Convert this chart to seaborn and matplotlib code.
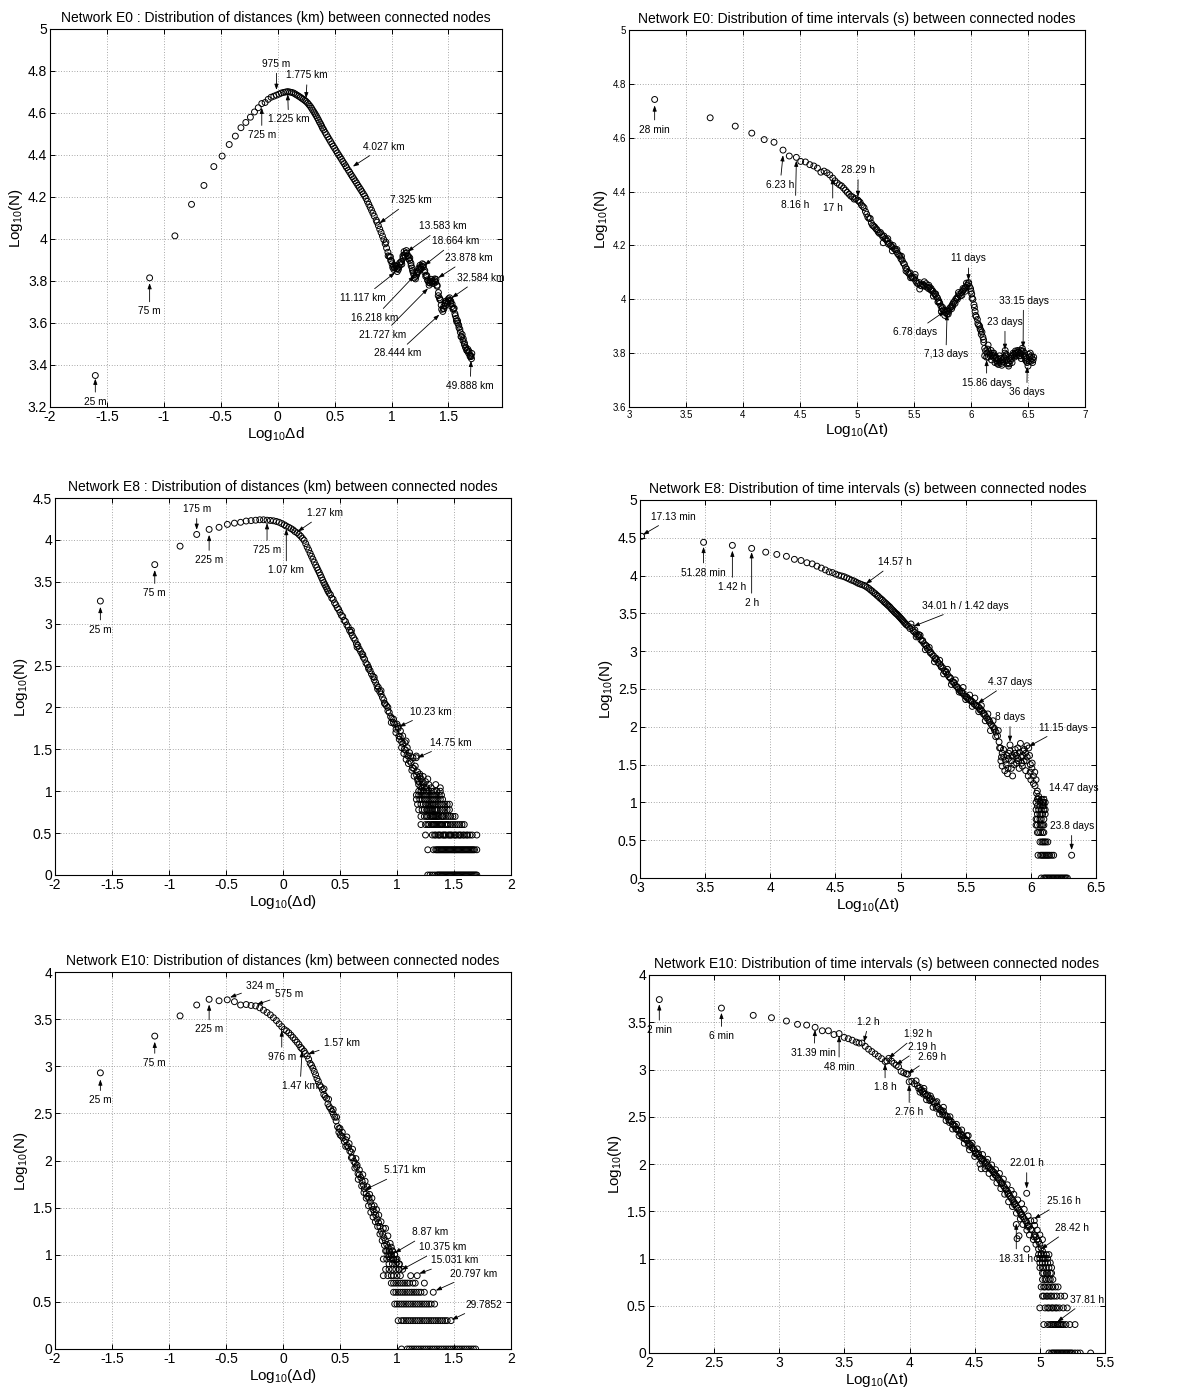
import pandas as pd
import matplotlib
matplotlib.use("Agg")
import matplotlib.pyplot as plt
from matplotlib.ticker import MultipleLocator, FuncFormatter
import seaborn as sns

# ---------------------------------------------------------------------------
# Network E0 - distances: (log10 distance [km], log10 count)
e0_dist_points = [
    (-1.602, 3.35), (-1.125, 3.815), (-0.903, 4.015), (-0.757, 4.165), (-0.648, 4.255),
    (-0.561, 4.345), (-0.488, 4.395), (-0.426, 4.45), (-0.372, 4.49), (-0.323, 4.53),
    (-0.280, 4.555), (-0.240, 4.58), (-0.204, 4.605), (-0.171, 4.625), (-0.140, 4.645),
    (-0.111, 4.65), (-0.084, 4.665), (-0.058, 4.675), (-0.034, 4.68), (-0.011, 4.685),
    (0.011, 4.69), (0.031, 4.695), (0.051, 4.698), (0.070, 4.70), (0.088, 4.702),
    (0.106, 4.70), (0.123, 4.698), (0.140, 4.695), (0.155, 4.69), (0.170, 4.685),
    (0.185, 4.68), (0.199, 4.675), (0.212, 4.67), (0.225, 4.665), (0.238, 4.66),
    (0.249, 4.655), (0.262, 4.648), (0.274, 4.64), (0.286, 4.632), (0.297, 4.623),
    (0.307, 4.614), (0.318, 4.605), (0.328, 4.596), (0.338, 4.587), (0.348, 4.577),
    (0.358, 4.567), (0.367, 4.557), (0.377, 4.548), (0.386, 4.538), (0.394, 4.528),
    (0.404, 4.52), (0.416, 4.508), (0.428, 4.497), (0.440, 4.486), (0.452, 4.475),
    (0.464, 4.464), (0.476, 4.453), (0.488, 4.442), (0.500, 4.432), (0.512, 4.421),
    (0.524, 4.410), (0.536, 4.400), (0.548, 4.390), (0.560, 4.380), (0.572, 4.369),
    (0.584, 4.359), (0.596, 4.349), (0.605, 4.340), (0.620, 4.328), (0.632, 4.318),
    (0.644, 4.307), (0.656, 4.297), (0.668, 4.287), (0.680, 4.277), (0.692, 4.267),
    (0.704, 4.256), (0.716, 4.246), (0.728, 4.236), (0.740, 4.226), (0.752, 4.215),
    (0.764, 4.205), (0.776, 4.193), (0.788, 4.179), (0.800, 4.165), (0.812, 4.151),
    (0.824, 4.137), (0.836, 4.123), (0.848, 4.109), (0.865, 4.090), (0.872, 4.080),
    (0.884, 4.064), (0.896, 4.047), (0.908, 4.031), (0.920, 4.014), (0.932, 3.997),
    (0.944, 3.977), (0.956, 3.957), (0.968, 3.937), (0.980, 3.917), (0.992, 3.898),
    (1.004, 3.882), (1.016, 3.870), (1.028, 3.862), (1.046, 3.858), (1.052, 3.860),
    (1.064, 3.866), (1.076, 3.877), (1.088, 3.893), (1.100, 3.910), (1.112, 3.924),
    (1.124, 3.932), (1.133, 3.934), (1.148, 3.918), (1.160, 3.898), (1.172, 3.873),
    (1.184, 3.850), (1.196, 3.830), (1.210, 3.822), (1.220, 3.828), (1.232, 3.842),
    (1.244, 3.856), (1.256, 3.866), (1.271, 3.870), (1.280, 3.866), (1.292, 3.850),
    (1.304, 3.828), (1.316, 3.806), (1.328, 3.793), (1.337, 3.790), (1.352, 3.795),
    (1.364, 3.800), (1.378, 3.802), (1.388, 3.795), (1.400, 3.775), (1.412, 3.745),
    (1.424, 3.712), (1.436, 3.685), (1.454, 3.668), (1.460, 3.668), (1.472, 3.682),
    (1.484, 3.698), (1.496, 3.706), (1.513, 3.708), (1.520, 3.704), (1.532, 3.690),
    (1.544, 3.668), (1.556, 3.645), (1.568, 3.622), (1.580, 3.600), (1.592, 3.578),
    (1.604, 3.556), (1.616, 3.535), (1.628, 3.515), (1.640, 3.497), (1.652, 3.482),
    (1.664, 3.468), (1.676, 3.457), (1.688, 3.448), (1.698, 3.440),
]
e0_dist_spread = [
    (0.95, 3.985), (0.97, 3.92), (0.99, 3.915), (1.01, 3.865), (1.03, 3.875), (1.05, 3.845),
    (1.07, 3.885), (1.09, 3.88), (1.11, 3.94), (1.13, 3.945), (1.15, 3.905), (1.17, 3.885),
    (1.19, 3.84), (1.21, 3.81), (1.23, 3.845), (1.25, 3.875), (1.27, 3.882), (1.29, 3.842),
    (1.31, 3.825), (1.33, 3.78), (1.35, 3.808), (1.37, 3.788), (1.39, 3.808), (1.41, 3.73),
    (1.43, 3.71), (1.45, 3.655), (1.47, 3.695), (1.49, 3.69), (1.51, 3.72), (1.53, 3.678),
    (1.55, 3.67), (1.57, 3.61), (1.59, 3.59), (1.61, 3.535), (1.63, 3.525), (1.65, 3.485),
    (1.67, 3.475), (1.69, 3.44), (1.705, 3.455), (1.702, 3.43),
    (1.00, 3.895), (1.02, 3.855), (1.04, 3.87), (1.06, 3.855), (1.08, 3.89), (1.10, 3.92),
    (1.12, 3.915), (1.14, 3.92), (1.16, 3.91), (1.18, 3.862), (1.20, 3.815), (1.22, 3.838),
    (1.24, 3.862), (1.26, 3.858), (1.28, 3.878), (1.30, 3.822), (1.32, 3.80), (1.34, 3.80),
    (1.36, 3.79), (1.38, 3.81), (1.40, 3.78), (1.42, 3.72), (1.44, 3.665), (1.46, 3.68),
    (1.48, 3.705), (1.50, 3.715), (1.52, 3.695), (1.54, 3.665), (1.56, 3.635), (1.58, 3.61),
    (1.60, 3.57), (1.62, 3.545), (1.64, 3.505), (1.66, 3.47), (1.68, 3.465), (1.695, 3.445),
]
e0_dist_notes = [
    ("25 m", (-1.602, 3.335), (-1.602, 3.225)),
    ("75 m", (-1.125, 3.79), (-1.125, 3.655)),
    ("975 m", (-0.011, 4.71), (-0.011, 4.835)),
    ("1.775 km", (0.249, 4.67), (0.26, 4.78)),
    ("1.225 km", (0.088, 4.69), (0.095, 4.57)),
    ("725 m", (-0.140, 4.625), (-0.140, 4.495)),
    ("4.027 km", (0.66, 4.345), (0.93, 4.44)),
    ("7.325 km", (0.895, 4.075), (1.17, 4.185)),
    ("13.583 km", (1.14, 3.94), (1.45, 4.06)),
    ("18.664 km", (1.29, 3.875), (1.56, 3.99)),
    ("23.878 km", (1.41, 3.815), (1.68, 3.91)),
    ("32.584 km", (1.53, 3.72), (1.78, 3.815)),
    ("11.117 km", (1.03, 3.84), (0.75, 3.72)),
    ("16.218 km", (1.20, 3.825), (0.85, 3.625)),
    ("21.727 km", (1.32, 3.765), (0.92, 3.545)),
    ("28.444 km", (1.42, 3.64), (1.05, 3.455)),
    ("49.888 km", (1.698, 3.42), (1.69, 3.30)),
]

# Network E0 - time intervals: (log10 interval [s], log10 count)
e0_time_points = [
    (3.225, 4.742), (3.712, 4.674), (3.932, 4.643), (4.077, 4.617), (4.186, 4.593),
    (4.272, 4.583), (4.351, 4.554), (4.406, 4.532), (4.468, 4.527), (4.506, 4.512),
    (4.548, 4.510), (4.586, 4.500), (4.621, 4.495), (4.653, 4.487), (4.683, 4.472),
    (4.711, 4.476), (4.737, 4.470), (4.761, 4.462), (4.787, 4.450), (4.806, 4.440),
    (4.826, 4.432), (4.846, 4.425), (4.864, 4.421), (4.882, 4.413), (4.899, 4.405),
    (4.915, 4.397), (4.931, 4.390), (4.946, 4.383), (4.961, 4.380), (4.975, 4.372),
    (4.988, 4.374), (5.008, 4.368), (5.014, 4.365), (5.027, 4.360), (5.039, 4.350),
    (5.051, 4.345), (5.062, 4.340), (5.074, 4.326), (5.085, 4.316), (5.095, 4.305),
    (5.106, 4.300), (5.116, 4.300), (5.126, 4.283), (5.136, 4.275), (5.146, 4.272),
    (5.156, 4.268), (5.166, 4.262), (5.176, 4.258), (5.186, 4.250), (5.196, 4.245),
    (5.206, 4.248), (5.216, 4.240), (5.226, 4.232), (5.236, 4.235), (5.246, 4.225),
    (5.256, 4.222), (5.266, 4.215), (5.276, 4.205), (5.286, 4.208), (5.296, 4.200),
    (5.306, 4.195), (5.316, 4.200), (5.326, 4.188), (5.336, 4.185), (5.346, 4.178),
    (5.356, 4.170), (5.366, 4.165), (5.376, 4.160), (5.386, 4.150), (5.396, 4.145),
    (5.406, 4.135), (5.416, 4.130), (5.426, 4.118), (5.436, 4.112), (5.446, 4.100),
    (5.456, 4.095), (5.466, 4.098), (5.476, 4.085), (5.486, 4.080), (5.496, 4.078),
    (5.506, 4.082), (5.516, 4.068), (5.526, 4.060), (5.536, 4.058), (5.546, 4.062),
    (5.556, 4.052), (5.566, 4.050), (5.576, 4.056), (5.586, 4.052), (5.596, 4.048),
    (5.606, 4.058), (5.616, 4.045), (5.626, 4.040), (5.636, 4.045), (5.646, 4.035),
    (5.656, 4.032), (5.666, 4.030), (5.676, 4.022), (5.686, 4.018), (5.696, 4.010),
    (5.706, 4.005), (5.716, 3.995), (5.726, 3.985), (5.736, 3.975), (5.746, 3.965),
    (5.756, 3.960), (5.768, 3.955), (5.776, 3.950), (5.790, 3.955), (5.796, 3.960),
    (5.806, 3.955), (5.816, 3.968), (5.826, 3.972), (5.836, 3.980), (5.846, 3.988),
    (5.856, 3.992), (5.866, 4.000), (5.876, 4.005), (5.886, 4.010), (5.896, 4.018),
    (5.906, 4.012), (5.916, 4.025), (5.926, 4.030), (5.936, 4.035), (5.946, 4.042),
    (5.956, 4.045), (5.966, 4.052), (5.978, 4.058), (5.986, 4.048), (5.996, 4.040),
    (6.006, 4.020), (6.016, 4.000), (6.026, 3.980), (6.036, 3.955), (6.046, 3.935),
    (6.056, 3.925), (6.066, 3.905), (6.076, 3.900), (6.086, 3.885), (6.096, 3.878),
    (6.104, 3.860), (6.112, 3.840), (6.120, 3.818), (6.128, 3.808), (6.137, 3.785),
    (6.146, 3.815), (6.156, 3.805), (6.166, 3.798), (6.176, 3.810), (6.186, 3.792),
    (6.196, 3.785), (6.206, 3.790), (6.216, 3.780), (6.226, 3.772), (6.236, 3.778),
    (6.246, 3.765), (6.256, 3.770), (6.266, 3.762), (6.276, 3.775), (6.286, 3.782),
    (6.298, 3.800), (6.306, 3.790), (6.316, 3.775), (6.326, 3.765), (6.336, 3.760),
    (6.346, 3.772), (6.356, 3.780), (6.366, 3.790), (6.376, 3.795), (6.386, 3.800),
    (6.396, 3.798), (6.406, 3.802), (6.416, 3.805), (6.426, 3.800), (6.436, 3.798),
    (6.446, 3.805), (6.457, 3.808), (6.466, 3.790), (6.476, 3.775), (6.486, 3.770),
    (6.493, 3.765), (6.506, 3.795), (6.516, 3.785), (6.526, 3.770), (6.536, 3.780),
    (6.545, 3.775),
]
e0_time_spread = [
    (5.23, 4.21), (5.27, 4.225), (5.31, 4.18), (5.35, 4.185), (5.39, 4.16), (5.43, 4.105),
    (5.47, 4.08), (5.51, 4.092), (5.55, 4.038), (5.59, 4.065), (5.63, 4.052), (5.67, 4.012),
    (5.71, 3.99), (5.74, 3.955), (5.77, 3.94), (5.80, 3.945), (5.83, 3.965), (5.86, 3.985),
    (5.89, 4.025), (5.92, 4.015), (5.95, 4.03), (5.98, 4.062), (6.00, 4.03), (6.03, 3.97),
    (6.06, 3.91), (6.09, 3.87), (6.12, 3.79), (6.15, 3.785), (6.18, 3.775), (6.21, 3.765),
    (6.24, 3.758), (6.27, 3.755), (6.30, 3.81), (6.33, 3.752), (6.36, 3.765), (6.39, 3.808),
    (6.42, 3.79), (6.45, 3.818), (6.48, 3.785), (6.50, 3.752), (6.52, 3.80), (6.54, 3.765),
    (6.15, 3.83), (6.20, 3.80), (6.25, 3.79), (6.35, 3.788), (6.44, 3.78),
    (6.14, 3.80), (6.17, 3.79), (6.19, 3.80), (6.22, 3.785), (6.23, 3.762), (6.26, 3.78),
    (6.28, 3.768), (6.29, 3.785), (6.31, 3.795), (6.32, 3.76), (6.34, 3.78), (6.37, 3.80),
    (6.38, 3.785), (6.40, 3.79), (6.41, 3.81), (6.43, 3.79), (6.44, 3.81), (6.47, 3.80),
    (6.49, 3.78), (6.51, 3.77), (6.53, 3.79), (6.55, 3.785), (5.65, 4.04), (5.69, 4.02),
    (5.72, 3.99), (5.75, 3.97), (5.79, 3.945), (5.84, 3.975), (5.88, 4.00), (5.93, 4.04),
    (5.96, 4.06), (6.01, 4.005), (6.04, 3.94), (6.08, 3.89), (6.11, 3.85),
]
e0_time_notes = [
    ("28 min", (3.225, 4.72), (3.225, 4.63)),
    ("6.23 h", (4.351, 4.535), (4.325, 4.425)),
    ("8.16 h", (4.468, 4.515), (4.46, 4.35)),
    ("17 h", (4.787, 4.45), (4.787, 4.34)),
    ("28.29 h", (5.008, 4.38), (5.01, 4.48)),
    ("11 days", (5.978, 4.07), (5.978, 4.152)),
    ("6.78 days", (5.768, 3.955), (5.505, 3.878)),
    ("7,13 days", (5.790, 3.945), (5.78, 3.795)),
    ("23 days", (6.298, 3.812), (6.298, 3.917)),
    ("33.15 days", (6.457, 3.82), (6.46, 3.995)),
    ("15.86 days", (6.137, 3.775), (6.137, 3.69)),
    ("36 days", (6.493, 3.75), (6.49, 3.655)),
]

# Network E8 - distances
e8_dist_points = [
    (-1.602, 3.27), (-1.125, 3.705), (-0.903, 3.925), (-0.757, 4.065), (-0.648, 4.125),
    (-0.561, 4.15), (-0.488, 4.185), (-0.426, 4.20), (-0.372, 4.21), (-0.323, 4.225),
    (-0.280, 4.23), (-0.240, 4.235), (-0.204, 4.24), (-0.171, 4.24), (-0.140, 4.235),
    (-0.111, 4.232), (-0.084, 4.228), (-0.058, 4.22), (-0.034, 4.21), (-0.011, 4.195),
    (0.011, 4.18), (0.029, 4.165), (0.051, 4.15), (0.070, 4.135), (0.088, 4.12),
    (0.104, 4.10), (0.123, 4.085), (0.140, 4.065), (0.155, 4.045), (0.170, 4.02),
    (0.185, 3.995), (0.199, 3.955), (0.212, 3.915), (0.225, 3.88), (0.238, 3.84),
    (0.250, 3.805), (0.262, 3.77), (0.274, 3.735), (0.286, 3.70), (0.297, 3.67),
    (0.307, 3.64), (0.318, 3.61), (0.328, 3.58), (0.338, 3.55), (0.348, 3.52),
    (0.358, 3.49), (0.367, 3.465), (0.377, 3.44), (0.386, 3.415), (0.394, 3.39),
    (0.404, 3.365), (0.416, 3.345), (0.428, 3.305), (0.440, 3.29), (0.452, 3.25),
    (0.464, 3.225), (0.476, 3.19), (0.488, 3.17), (0.500, 3.135), (0.512, 3.10),
    (0.524, 3.085), (0.536, 3.04), (0.548, 3.025), (0.560, 2.985), (0.572, 2.96),
    (0.584, 2.92), (0.596, 2.895), (0.608, 2.86), (0.620, 2.83), (0.632, 2.805),
    (0.644, 2.76), (0.656, 2.74), (0.668, 2.70), (0.680, 2.67), (0.692, 2.64),
    (0.704, 2.60), (0.716, 2.575), (0.728, 2.53), (0.740, 2.51), (0.752, 2.46),
    (0.764, 2.44), (0.776, 2.40), (0.788, 2.37), (0.800, 2.33), (0.812, 2.30),
    (0.824, 2.26), (0.836, 2.24), (0.848, 2.19), (0.860, 2.16), (0.872, 2.12),
    (0.884, 2.09), (0.896, 2.04), (0.908, 2.02), (0.920, 1.96), (0.932, 1.94),
    (0.944, 1.89), (0.956, 1.87), (0.968, 1.82), (0.980, 1.80), (0.992, 1.74),
    (1.010, 1.75), (1.016, 1.66), (1.028, 1.65), (1.040, 1.59), (1.052, 1.57),
    (1.064, 1.50), (1.076, 1.49), (1.088, 1.43), (1.100, 1.42), (1.112, 1.36),
    (1.124, 1.34), (1.136, 1.28), (1.148, 1.27), (1.169, 1.40), (1.172, 1.19),
    (1.184, 1.12), (1.196, 1.11), (1.208, 1.05), (1.220, 1.04),
]
e8_dist_spread = [
    (0.60, 2.92), (0.65, 2.72), (0.70, 2.63), (0.75, 2.48), (0.80, 2.36), (0.83, 2.22),
    (0.86, 2.20), (0.89, 2.05), (0.92, 2.00), (0.95, 1.82), (0.97, 1.86), (0.99, 1.70),
    (1.00, 1.80), (1.02, 1.62), (1.03, 1.72), (1.04, 1.52), (1.05, 1.66), (1.06, 1.45),
    (1.07, 1.58), (1.08, 1.38), (1.09, 1.52), (1.10, 1.33), (1.11, 1.46), (1.12, 1.42),
    (1.13, 1.25), (1.14, 1.40), (1.15, 1.18), (1.16, 1.30), (1.17, 1.42), (1.18, 1.23),
    (1.19, 1.08), (1.20, 1.18), (1.21, 1.15), (1.22, 1.114), (1.23, 1.079), (1.24, 1.041),
    (1.18, 1.146), (1.25, 1.114), (1.26, 1.041), (1.28, 1.079), (1.30, 1.041), (1.27, 1.146),
    (1.20, 1.204), (1.23, 1.176), (1.08, 1.60), (1.01, 1.77), (1.38, 1.041), (1.34, 1.079),
]
e8_dist_rows = [
    (0.0, [1.27, 1.29, 1.31, 1.33, 1.35, 1.36, 1.37, 1.38, 1.39, 1.40, 1.41, 1.42, 1.43, 1.44,
           1.45, 1.46, 1.47, 1.48, 1.49, 1.50, 1.51, 1.52, 1.53, 1.54, 1.55, 1.56, 1.57, 1.58,
           1.59, 1.60, 1.61, 1.62, 1.63, 1.64, 1.65, 1.66, 1.67, 1.68, 1.69, 1.70]),
    (0.301, [1.27, 1.32, 1.34, 1.35, 1.36, 1.37, 1.38, 1.39, 1.40, 1.41, 1.42, 1.43, 1.44, 1.45,
             1.46, 1.47, 1.48, 1.49, 1.50, 1.51, 1.52, 1.53, 1.54, 1.55, 1.56, 1.57, 1.58, 1.59,
             1.60, 1.61, 1.62, 1.63, 1.64, 1.65, 1.66, 1.67, 1.68, 1.70]),
    (0.477, [1.25, 1.31, 1.33, 1.34, 1.36, 1.37, 1.38, 1.40, 1.41, 1.42, 1.43, 1.45, 1.46, 1.47,
             1.48, 1.50, 1.51, 1.52, 1.54, 1.55, 1.56, 1.58, 1.59, 1.61, 1.62, 1.64, 1.66, 1.70]),
    (0.602, [1.21, 1.25, 1.27, 1.28, 1.30, 1.31, 1.32, 1.33, 1.34, 1.35, 1.36, 1.37, 1.38, 1.39,
             1.40, 1.42, 1.43, 1.44, 1.45, 1.47, 1.49, 1.51, 1.53, 1.55, 1.57, 1.59]),
    (0.699, [1.21, 1.24, 1.26, 1.27, 1.29, 1.30, 1.31, 1.32, 1.33, 1.34, 1.35, 1.36, 1.37, 1.39,
             1.40, 1.41, 1.43, 1.45, 1.47, 1.49, 1.51]),
    (0.778, [1.19, 1.22, 1.24, 1.26, 1.27, 1.28, 1.29, 1.30, 1.31, 1.33, 1.34, 1.35, 1.36, 1.38,
             1.40, 1.42, 1.44, 1.46]),
    (0.845, [1.18, 1.21, 1.23, 1.25, 1.27, 1.28, 1.29, 1.30, 1.31, 1.32, 1.34, 1.36, 1.38, 1.40,
             1.42, 1.44, 1.46]),
    (0.903, [1.17, 1.20, 1.22, 1.24, 1.26, 1.28, 1.30, 1.32, 1.34, 1.36, 1.38, 1.40]),
    (0.954, [1.17, 1.19, 1.21, 1.23, 1.25, 1.27, 1.29, 1.31, 1.33, 1.35, 1.37, 1.39]),
    (1.0, [1.19, 1.21, 1.23, 1.26, 1.28, 1.30, 1.32, 1.35, 1.38]),
]
e8_dist_notes = [
    ("25 m", (-1.602, 3.2), (-1.602, 2.93)),
    ("75 m", (-1.125, 3.64), (-1.125, 3.365)),
    ("175 m", (-0.757, 4.12), (-0.757, 4.37)),
    ("225 m", (-0.648, 4.06), (-0.648, 3.76)),
    ("725 m", (-0.140, 4.20), (-0.140, 3.88)),
    ("1.07 km", (0.029, 4.13), (0.029, 3.635)),
    ("1.27 km", (0.13, 4.10), (0.365, 4.32)),
    ("10.23 km", (1.02, 1.77), (1.30, 1.95)),
    ("14.75 km", (1.18, 1.40), (1.475, 1.58)),
]

# Network E8 - time intervals
e8_time_points = [
    (3.012, 4.52), (3.488, 4.44), (3.709, 4.40), (3.857, 4.36), (3.965, 4.31), (4.05, 4.28),
    (4.124, 4.255), (4.185, 4.215), (4.236, 4.20), (4.281, 4.17), (4.322, 4.155), (4.358, 4.125),
    (4.392, 4.10), (4.423, 4.075), (4.451, 4.05), (4.477, 4.04), (4.502, 4.02), (4.525, 4.005),
    (4.547, 3.995), (4.567, 3.985), (4.587, 3.97), (4.606, 3.955), (4.624, 3.94), (4.641, 3.93),
    (4.657, 3.915), (4.673, 3.90), (4.688, 3.89), (4.703, 3.88), (4.720, 3.87), (4.731, 3.86),
    (4.744, 3.845), (4.757, 3.83), (4.770, 3.81), (4.782, 3.795), (4.794, 3.775), (4.806, 3.76),
    (4.818, 3.74), (4.829, 3.725), (4.840, 3.705), (4.851, 3.69), (4.861, 3.675), (4.872, 3.655),
    (4.882, 3.64), (4.892, 3.625), (4.901, 3.61), (4.911, 3.595), (4.920, 3.58), (4.929, 3.56),
    (4.938, 3.545), (4.947, 3.53), (4.955, 3.515), (4.964, 3.50), (4.972, 3.49), (4.980, 3.475),
    (4.988, 3.46), (4.996, 3.445), (5.004, 3.43), (5.012, 3.415), (5.019, 3.40), (5.027, 3.385),
    (5.034, 3.37), (5.042, 3.355), (5.049, 3.345), (5.060, 3.33), (5.072, 3.30), (5.088, 3.31),
    (5.096, 3.27), (5.108, 3.25), (5.120, 3.23), (5.132, 3.20), (5.144, 3.19), (5.156, 3.15),
    (5.168, 3.13), (5.180, 3.10), (5.192, 3.08), (5.204, 3.04), (5.216, 3.02), (5.228, 2.98),
    (5.240, 2.96), (5.252, 2.94), (5.264, 2.90), (5.276, 2.89), (5.288, 2.85), (5.300, 2.83),
    (5.312, 2.79), (5.324, 2.78), (5.336, 2.74), (5.348, 2.72), (5.360, 2.69), (5.372, 2.66),
    (5.384, 2.64), (5.396, 2.60), (5.408, 2.59), (5.420, 2.55), (5.432, 2.53), (5.444, 2.50),
    (5.456, 2.48), (5.468, 2.45), (5.480, 2.44), (5.492, 2.41), (5.504, 2.40), (5.516, 2.37),
    (5.528, 2.36), (5.540, 2.34), (5.552, 2.33), (5.564, 2.30), (5.577, 2.29), (5.588, 2.27),
    (5.600, 2.26), (5.612, 2.22), (5.624, 2.21), (5.636, 2.17), (5.648, 2.15), (5.660, 2.12),
    (5.672, 2.10), (5.684, 2.06), (5.696, 2.03), (5.708, 2.00), (5.720, 1.96), (5.732, 1.93),
    (5.744, 1.88), (5.756, 1.80), (5.768, 1.72), (5.780, 1.65), (5.792, 1.60), (5.804, 1.56),
    (5.816, 1.62), (5.828, 1.58), (5.840, 1.76), (5.852, 1.55), (5.864, 1.60), (5.876, 1.65),
    (5.888, 1.62), (5.900, 1.58), (5.912, 1.66), (5.924, 1.60), (5.936, 1.62), (5.948, 1.55),
    (5.960, 1.65), (5.972, 1.60), (5.984, 1.72), (5.996, 1.50), (6.008, 1.45), (6.020, 1.35),
    (6.032, 1.22), (6.044, 1.12), (6.056, 1.05), (6.097, 1.0),
]
e8_time_spread = [
    (5.08, 3.36), (5.12, 3.19), (5.15, 3.21), (5.19, 3.02), (5.22, 3.05), (5.26, 2.86),
    (5.30, 2.88), (5.33, 2.70), (5.36, 2.76), (5.39, 2.56), (5.42, 2.62), (5.45, 2.46),
    (5.48, 2.52), (5.50, 2.36), (5.53, 2.42), (5.55, 2.27), (5.57, 2.38), (5.60, 2.20),
    (5.62, 2.28), (5.65, 2.08), (5.67, 2.17), (5.69, 1.95), (5.71, 2.08), (5.73, 1.87),
    (5.75, 1.95), (5.76, 1.72), (5.77, 1.55), (5.78, 1.48), (5.79, 1.70), (5.80, 1.42),
    (5.81, 1.50), (5.82, 1.38), (5.83, 1.65), (5.84, 1.68), (5.85, 1.45), (5.86, 1.35),
    (5.87, 1.50), (5.88, 1.70), (5.89, 1.52), (5.90, 1.72), (5.91, 1.45), (5.92, 1.78),
    (5.93, 1.52), (5.94, 1.68), (5.95, 1.70), (5.96, 1.42), (5.97, 1.75), (5.98, 1.35),
    (5.99, 1.62), (6.00, 1.30), (6.01, 1.52), (6.02, 1.25), (6.03, 1.40), (6.04, 1.30),
    (6.05, 1.15), (6.06, 1.08), (5.775, 1.60), (5.825, 1.45), (5.855, 1.62), (5.905, 1.55),
    (5.935, 1.48), (5.965, 1.55), (5.995, 1.40),
    (5.11, 3.28), (5.14, 3.22), (5.17, 3.14), (5.20, 3.07), (5.23, 2.99), (5.27, 2.91),
    (5.31, 2.81), (5.35, 2.73), (5.38, 2.65), (5.41, 2.58), (5.44, 2.52), (5.47, 2.47),
    (5.51, 2.39), (5.54, 2.35), (5.58, 2.28), (5.61, 2.24), (5.64, 2.18), (5.68, 2.08),
    (5.72, 1.98),
]
e8_time_rows = [
    (1.041, [6.05, 6.08, 6.10]),
    (1.0, [6.04, 6.07, 6.09, 6.11]),
    (0.954, [6.05, 6.07, 6.09, 6.10]),
    (0.903, [6.04, 6.06, 6.08, 6.10, 6.11]),
    (0.845, [6.05, 6.07, 6.08, 6.09, 6.11]),
    (0.778, [6.04, 6.05, 6.07, 6.08, 6.10]),
    (0.699, [6.04, 6.05, 6.07, 6.08, 6.09, 6.10]),
    (0.602, [6.05, 6.06, 6.075, 6.09, 6.10]),
    (0.477, [6.07, 6.085, 6.095, 6.105, 6.115, 6.13]),
    (0.301, [6.055, 6.075, 6.085, 6.095, 6.105, 6.115, 6.125, 6.135, 6.145, 6.16, 6.175, 6.313]),
    (0.0, [6.08, 6.10, 6.11, 6.12, 6.13, 6.14, 6.15, 6.16, 6.17, 6.18, 6.19, 6.20, 6.21, 6.22,
           6.23, 6.24, 6.25, 6.26, 6.27, 6.28]),
]
e8_time_notes = [
    ("17.13 min", (3.022, 4.54), (3.26, 4.78)),
    ("51.28 min", (3.488, 4.38), (3.488, 4.04)),
    ("1.42 h", (3.709, 4.33), (3.709, 3.85)),
    ("2 h", (3.857, 4.31), (3.857, 3.64)),
    ("14.57 h", (4.733, 3.89), (4.96, 4.18)),
    ("34.01 h / 1.42 days", (5.10, 3.33), (5.50, 3.60)),
    ("4.37 days", (5.593, 2.31), (5.84, 2.595)),
    ("8 days", (5.840, 1.80), (5.840, 2.13)),
    ("11.15 days", (5.984, 1.74), (6.25, 1.99)),
    ("14.47 days", (6.04, 1.03), (6.33, 1.19)),
    ("23.8 days", (6.313, 0.37), (6.313, 0.69)),
]

# Network E10 - distances
e10_dist_points = [
    (-1.602, 2.93), (-1.125, 3.32), (-0.903, 3.535), (-0.757, 3.65), (-0.648, 3.71),
    (-0.561, 3.695), (-0.489, 3.705), (-0.426, 3.685), (-0.372, 3.65), (-0.323, 3.655),
    (-0.280, 3.645), (-0.240, 3.64), (-0.204, 3.62), (-0.171, 3.595), (-0.140, 3.57),
    (-0.111, 3.545), (-0.084, 3.515), (-0.058, 3.485), (-0.034, 3.45), (-0.011, 3.42),
    (0.011, 3.39), (0.031, 3.375), (0.051, 3.355), (0.070, 3.33), (0.088, 3.305),
    (0.106, 3.28), (0.123, 3.255), (0.140, 3.23), (0.155, 3.20), (0.167, 3.185),
    (0.185, 3.16), (0.196, 3.135), (0.212, 3.11), (0.225, 3.075), (0.238, 3.03),
    (0.250, 3.01), (0.262, 2.98), (0.274, 2.945), (0.286, 2.91), (0.298, 2.87),
    (0.310, 2.84), (0.322, 2.80), (0.334, 2.78), (0.346, 2.75), (0.358, 2.70),
    (0.370, 2.68), (0.382, 2.66), (0.394, 2.60), (0.406, 2.57), (0.418, 2.55),
    (0.430, 2.52), (0.442, 2.49), (0.454, 2.46), (0.466, 2.42), (0.478, 2.36),
    (0.490, 2.34), (0.502, 2.27), (0.514, 2.26), (0.526, 2.24), (0.538, 2.20),
    (0.550, 2.22), (0.562, 2.16), (0.574, 2.14), (0.586, 2.10), (0.598, 2.09),
    (0.610, 2.03), (0.622, 1.99), (0.634, 1.97), (0.646, 1.93), (0.658, 1.86),
    (0.670, 1.85), (0.682, 1.82), (0.694, 1.78), (0.706, 1.74), (0.714, 1.70),
    (0.730, 1.65), (0.742, 1.62), (0.754, 1.60), (0.766, 1.56), (0.778, 1.52),
    (0.790, 1.48), (0.802, 1.45), (0.814, 1.42), (0.826, 1.38), (0.838, 1.34),
    (0.850, 1.30), (0.862, 1.25), (0.874, 1.22), (0.886, 1.18), (0.898, 1.15),
    (0.910, 1.11), (0.922, 1.08), (0.934, 1.04), (0.948, 1.00), (0.958, 0.97),
    (1.016, 0.845),
]
e10_dist_spread = [
    (0.36, 2.76), (0.40, 2.65), (0.44, 2.54), (0.47, 2.46), (0.49, 2.30), (0.50, 2.34),
    (0.52, 2.30), (0.55, 2.15), (0.56, 2.25), (0.58, 2.18), (0.60, 2.03), (0.61, 2.12),
    (0.63, 1.92), (0.64, 2.02), (0.65, 1.95), (0.66, 1.80), (0.67, 1.90), (0.69, 1.73),
    (0.70, 1.85), (0.71, 1.66), (0.72, 1.78), (0.73, 1.60), (0.74, 1.72), (0.75, 1.52),
    (0.76, 1.64), (0.77, 1.45), (0.78, 1.60), (0.79, 1.40), (0.80, 1.52), (0.81, 1.35),
    (0.82, 1.48), (0.83, 1.30), (0.84, 1.42), (0.85, 1.22), (0.86, 1.35), (0.87, 1.15),
    (0.88, 1.28), (0.89, 1.10), (0.90, 1.28), (0.91, 1.04), (0.92, 1.20), (0.93, 0.98),
    (0.94, 1.12), (0.95, 1.08), (0.96, 1.04), (0.97, 0.95), (0.98, 1.00), (0.99, 0.95),
    (1.00, 0.92), (1.02, 0.90),
]
e10_dist_rows = [
    (1.041, [0.90, 0.93, 0.96]),
    (1.0, [0.92, 0.95, 0.98]),
    (0.954, [0.88, 0.91, 0.94, 0.97, 1.00]),
    (0.903, [0.93, 0.96, 0.99, 1.02]),
    (0.845, [0.90, 0.93, 0.96, 0.99, 1.02, 1.05]),
    (0.778, [0.88, 0.92, 0.95, 0.97, 1.00, 1.03, 1.12, 1.177]),
    (0.699, [0.95, 0.97, 0.99, 1.01, 1.03, 1.05, 1.07, 1.09, 1.11, 1.14, 1.16, 1.24]),
    (0.602, [0.97, 0.99, 1.01, 1.03, 1.05, 1.07, 1.09, 1.11, 1.13, 1.15, 1.17, 1.19, 1.21,
             1.24, 1.318]),
    (0.477, [0.98, 1.00, 1.02, 1.04, 1.06, 1.08, 1.10, 1.12, 1.14, 1.16, 1.18, 1.20, 1.22,
             1.24, 1.26, 1.28, 1.30, 1.33]),
    (0.301, [1.01, 1.04, 1.06, 1.08, 1.10, 1.12, 1.14, 1.16, 1.18, 1.20, 1.22, 1.24, 1.26,
             1.28, 1.30, 1.32, 1.34, 1.36, 1.38, 1.40, 1.42, 1.44, 1.474]),
    (0.0, [1.04, 1.09, 1.11, 1.13, 1.15, 1.17, 1.19, 1.21, 1.23, 1.25, 1.27, 1.29, 1.31, 1.33,
           1.35, 1.37, 1.39, 1.41, 1.43, 1.45, 1.47, 1.49, 1.51, 1.53, 1.55, 1.57, 1.59, 1.61,
           1.63, 1.65, 1.67, 1.69]),
]
e10_dist_notes = [
    ("25 m", (-1.602, 2.86), (-1.602, 2.64)),
    ("75 m", (-1.125, 3.26), (-1.125, 3.035)),
    ("225 m", (-0.648, 3.655), (-0.648, 3.39)),
    ("324 m", (-0.465, 3.73), (-0.20, 3.85)),
    ("575 m", (-0.23, 3.655), (0.05, 3.77)),
    ("976 m", (-0.011, 3.38), (-0.011, 3.10)),
    ("1.47 km", (0.167, 3.16), (0.15, 2.79)),
    ("1.57 km", (0.22, 3.13), (0.515, 3.25)),
    ("5.171 km", (0.72, 1.69), (1.07, 1.895)),
    ("8.87 km", (0.98, 1.02), (1.29, 1.24)),
    ("10.375 km", (1.04, 0.84), (1.405, 1.08)),
    ("15.031 km", (1.195, 0.80), (1.51, 0.94)),
    ("20.797 km", (1.34, 0.62), (1.67, 0.80)),
    ("29.7852", (1.48, 0.31), (1.757, 0.47)),
]

# Network E10 - time intervals
e10_time_points = [
    (2.079, 3.74), (2.556, 3.65), (2.80, 3.573), (2.94, 3.548), (3.055, 3.513), (3.14, 3.478),
    (3.21, 3.47), (3.275, 3.446), (3.33, 3.41), (3.377, 3.41), (3.42, 3.37), (3.459, 3.38),
    (3.498, 3.34), (3.53, 3.326), (3.56, 3.31), (3.59, 3.29), (3.612, 3.28), (3.635, 3.28),
    (3.66, 3.245), (3.685, 3.215), (3.71, 3.19), (3.735, 3.165), (3.76, 3.14), (3.785, 3.115),
    (3.812, 3.085), (3.826, 3.09), (3.840, 3.118), (3.862, 3.088), (3.88, 3.065), (3.897, 3.045),
    (3.915, 3.03), (3.935, 2.98), (3.955, 2.965), (3.975, 2.955), (3.986, 2.95), (3.997, 2.87),
    (4.017, 2.875), (4.037, 2.85), (4.06, 2.83), (4.07, 2.80), (4.08, 2.81), (4.09, 2.78),
    (4.10, 2.76), (4.11, 2.77), (4.12, 2.74), (4.13, 2.72), (4.14, 2.73), (4.15, 2.70),
    (4.16, 2.68), (4.17, 2.69), (4.18, 2.66), (4.19, 2.64), (4.20, 2.65), (4.21, 2.61),
    (4.22, 2.60), (4.23, 2.58), (4.24, 2.57), (4.25, 2.55), (4.26, 2.56), (4.27, 2.52),
    (4.28, 2.51), (4.29, 2.50), (4.30, 2.47), (4.31, 2.46), (4.32, 2.45), (4.33, 2.42),
    (4.34, 2.41), (4.35, 2.40), (4.36, 2.37), (4.37, 2.36), (4.38, 2.35), (4.39, 2.32),
    (4.40, 2.31), (4.41, 2.30), (4.42, 2.27), (4.43, 2.26), (4.44, 2.25), (4.45, 2.22),
    (4.46, 2.21), (4.47, 2.20), (4.48, 2.17), (4.49, 2.16), (4.50, 2.14), (4.51, 2.12),
    (4.52, 2.10), (4.53, 2.11), (4.54, 2.07), (4.55, 2.06), (4.56, 2.05), (4.57, 2.03),
    (4.58, 2.01), (4.59, 2.02), (4.60, 1.98), (4.61, 1.97), (4.62, 1.95), (4.63, 1.94),
    (4.64, 1.92), (4.65, 1.91), (4.66, 1.88), (4.67, 1.87), (4.68, 1.85), (4.69, 1.83),
    (4.70, 1.81), (4.71, 1.80), (4.72, 1.77), (4.73, 1.75), (4.74, 1.73), (4.75, 1.71),
    (4.76, 1.69), (4.77, 1.66), (4.78, 1.64), (4.79, 1.62), (4.80, 1.60), (4.81, 1.58),
    (4.82, 1.55), (4.83, 1.53), (4.84, 1.51), (4.85, 1.49), (4.86, 1.47), (4.87, 1.44),
    (4.88, 1.42), (4.89, 1.40), (4.90, 1.38), (4.91, 1.35), (4.92, 1.34), (4.93, 1.31),
    (4.94, 1.30), (4.957, 1.40), (4.96, 1.25), (4.97, 1.23), (4.98, 1.20), (4.99, 1.18),
    (5.00, 1.15), (5.010, 1.11), (5.02, 1.08),
]
e10_time_spread = [
    (4.05, 2.88), (4.08, 2.76), (4.11, 2.80), (4.13, 2.68), (4.16, 2.72), (4.18, 2.60),
    (4.21, 2.66), (4.23, 2.53), (4.26, 2.60), (4.28, 2.46), (4.31, 2.50), (4.33, 2.37),
    (4.36, 2.42), (4.38, 2.30), (4.40, 2.36), (4.42, 2.22), (4.44, 2.30), (4.46, 2.15),
    (4.48, 2.22), (4.50, 2.08), (4.52, 2.16), (4.54, 2.00), (4.56, 2.10), (4.58, 1.95),
    (4.60, 2.05), (4.61, 1.90), (4.63, 1.99), (4.64, 1.86), (4.66, 1.94), (4.67, 1.80),
    (4.69, 1.90), (4.70, 1.74), (4.72, 1.84), (4.73, 1.68), (4.75, 1.78), (4.76, 1.60),
    (4.78, 1.72), (4.79, 1.55), (4.80, 1.68), (4.82, 1.48), (4.83, 1.62), (4.85, 1.42),
    (4.86, 1.58), (4.87, 1.36), (4.88, 1.52), (4.90, 1.30), (4.91, 1.45), (4.92, 1.25),
    (4.93, 1.40), (4.95, 1.20), (4.96, 1.35), (4.97, 1.15), (4.98, 1.30), (4.99, 1.10),
    (5.00, 1.25), (5.01, 1.05), (5.02, 1.20), (5.03, 1.00), (4.84, 1.24), (4.819, 1.36),
    (4.825, 1.21), (4.90, 1.10), (4.899, 1.69), (4.55, 1.95), (4.45, 2.30),
    (4.105, 2.74), (4.155, 2.67), (4.205, 2.59), (4.255, 2.52), (4.305, 2.44), (4.355, 2.37),
    (4.405, 2.28), (4.455, 2.19), (4.505, 2.11), (4.555, 2.03), (4.605, 1.96), (4.655, 1.89),
    (4.705, 1.79), (4.755, 1.68), (4.805, 1.57), (4.855, 1.46), (4.905, 1.34), (4.955, 1.23),
]
e10_time_rows = [
    (1.041, [4.99, 5.01, 5.03, 5.05, 5.07]),
    (1.0, [4.98, 5.00, 5.02, 5.04, 5.06]),
    (0.954, [5.00, 5.02, 5.04, 5.06, 5.08]),
    (0.903, [5.00, 5.02, 5.03, 5.05, 5.07, 5.09]),
    (0.845, [5.02, 5.03, 5.05, 5.06, 5.08, 5.09]),
    (0.778, [5.02, 5.04, 5.05, 5.07, 5.08, 5.10]),
    (0.699, [5.01, 5.03, 5.04, 5.06, 5.07, 5.09, 5.10, 5.12, 5.14]),
    (0.602, [5.02, 5.03, 5.05, 5.06, 5.08, 5.09, 5.11, 5.13, 5.16, 5.19]),
    (0.477, [5.00, 5.04, 5.06, 5.07, 5.09, 5.10, 5.12, 5.13, 5.15, 5.18, 5.21]),
    (0.301, [5.03, 5.06, 5.08, 5.09, 5.10, 5.11, 5.12, 5.134, 5.14, 5.15, 5.16, 5.17, 5.18,
             5.20, 5.23, 5.27]),
    (0.0, [5.07, 5.09, 5.10, 5.11, 5.12, 5.13, 5.14, 5.15, 5.16, 5.17, 5.18, 5.19, 5.20, 5.21,
           5.22, 5.23, 5.24, 5.25, 5.27, 5.29, 5.31, 5.39]),
]
e10_time_notes = [
    ("2 min", (2.079, 3.69), (2.079, 3.42)),
    ("6 min", (2.556, 3.60), (2.556, 3.354)),
    ("31.39 min", (3.275, 3.42), (3.265, 3.177)),
    ("48 min", (3.459, 3.355), (3.459, 3.03)),
    ("1.2 h", (3.65, 3.29), (3.687, 3.506)),
    ("1.8 h", (3.812, 3.06), (3.812, 2.81)),
    ("1.92 h", (3.840, 3.12), (4.066, 3.375)),
    ("2.19 h", (3.897, 3.05), (4.10, 3.24)),
    ("2.69 h", (3.986, 2.955), (4.176, 3.135)),
    ("2.76 h", (3.997, 2.84), (3.997, 2.55)),
    ("22.01 h", (4.899, 1.74), (4.899, 2.01)),
    ("25.16 h", (4.957, 1.42), (5.187, 1.61)),
    ("28.42 h", (5.010, 1.10), (5.244, 1.324)),
    ("18.31 h", (4.819, 1.37), (4.819, 1.0)),
    ("37.81 h", (5.134, 0.33), (5.364, 0.565)),
]

# ---------------------------------------------------------------------------
W, H = 1201, 1391

sns.set_theme(style="white")
plt.rcParams.update({
    "font.family": ["Liberation Sans", "DejaVu Sans"],
    "mathtext.fontset": "custom",
    "mathtext.rm": "Liberation Sans",
    "mathtext.it": "Liberation Sans:italic",
    "mathtext.bf": "Liberation Sans:bold",
    "axes.edgecolor": "black",
    "axes.labelcolor": "black",
    "text.color": "black",
    "xtick.color": "black",
    "ytick.color": "black",
    "axes.axisbelow": True,
})


def build_frame(points, spread, rows=()):
    xs = [p[0] for p in points] + [p[0] for p in spread]
    ys = [p[1] for p in points] + [p[1] for p in spread]
    for level, row_x in rows:
        xs += list(row_x)
        ys += [level] * len(row_x)
    return pd.DataFrame({"x": xs, "y": ys})


def tick_text(v, _pos):
    if abs(v) < 1e-9:
        return "0"
    return f"{round(v, 6):g}"


def draw_panel(box, frame, notes, xlim, ylim, ystep, title, xlabel, tick_size, clip_notes=()):
    left, top, right, bottom = box
    ax = fig.add_axes([left / W, 1 - bottom / H, (right - left) / W, (bottom - top) / H])
    sns.scatterplot(data=frame, x="x", y="y", ax=ax, marker="o", s=18,
                    facecolors="none", edgecolor="black", linewidth=0.7,
                    legend=False, zorder=3)
    ax.set_xlim(*xlim)
    ax.set_ylim(*ylim)
    ax.xaxis.set_major_locator(MultipleLocator(0.5))
    ax.yaxis.set_major_locator(MultipleLocator(ystep))
    ax.xaxis.set_major_formatter(FuncFormatter(tick_text))
    ax.yaxis.set_major_formatter(FuncFormatter(tick_text))
    ax.grid(True, linestyle=(0, (1, 2.2)), linewidth=0.6, color="#8c8c8c")
    ax.tick_params(direction="in", length=3.5, width=0.7, top=True, right=True,
                   bottom=True, left=True, labelsize=tick_size, pad=2)
    for sp in ax.spines.values():
        sp.set_visible(True)
        sp.set_color("black")
        sp.set_linewidth(0.8)
    ax.set_title(title, fontsize=10, pad=5)
    ax.set_xlabel(xlabel, fontsize=11, labelpad=1)
    ax.set_ylabel("Log$_{10}$(N)", fontsize=11, labelpad=2)
    for label, tip, txt in notes:
        ann = ax.annotate(label, xy=tip, xytext=txt, ha="center", va="center",
                          fontsize=7.3, zorder=5,
                          arrowprops=dict(arrowstyle="-|>,head_length=0.45,head_width=0.16",
                                          color="black", lw=0.6, shrinkA=1, shrinkB=0))
        if label in clip_notes:
            ann.set_clip_on(True)
    return ax


fig = plt.figure(figsize=(W / 100, H / 100), dpi=100)
fig.patch.set_facecolor("white")

draw_panel((50, 29, 502, 407), build_frame(e0_dist_points, e0_dist_spread), e0_dist_notes,
           (-2, 1.97), (3.2, 5.0), 0.2,
           "Network E0 : Distribution of distances (km) between connected nodes",
           "Log$_{10}$Δd", 10, clip_notes=("32.584 km",))
draw_panel((629, 30, 1085, 407), build_frame(e0_time_points, e0_time_spread), e0_time_notes,
           (3, 7), (3.6, 5.0), 0.2,
           "Network E0: Distribution of time intervals (s) between connected nodes",
           "Log$_{10}$(Δt)", 7)
draw_panel((55, 498, 511, 875), build_frame(e8_dist_points, e8_dist_spread, e8_dist_rows),
           e8_dist_notes, (-2, 2), (0, 4.5), 0.5,
           "Network E8 : Distribution of distances (km) between connected nodes",
           "Log$_{10}$(Δd)", 10)
draw_panel((640, 500, 1096, 878), build_frame(e8_time_points, e8_time_spread, e8_time_rows),
           e8_time_notes, (3, 6.5), (0, 5), 0.5,
           "Network E8: Distribution of time intervals (s) between connected nodes",
           "Log$_{10}$(Δt)", 10)
draw_panel((55, 972, 511, 1349), build_frame(e10_dist_points, e10_dist_spread, e10_dist_rows),
           e10_dist_notes, (-2, 2), (0, 4), 0.5,
           "Network E10: Distribution of distances (km) between connected nodes",
           "Log$_{10}$(Δd)", 10)
draw_panel((649, 975, 1105, 1353), build_frame(e10_time_points, e10_time_spread, e10_time_rows),
           e10_time_notes, (2, 5.5), (0, 4), 0.5,
           "Network E10: Distribution of time intervals (s) between connected nodes",
           "Log$_{10}$(Δt)", 10)

fig.savefig("out.png", dpi=100, facecolor="white")
